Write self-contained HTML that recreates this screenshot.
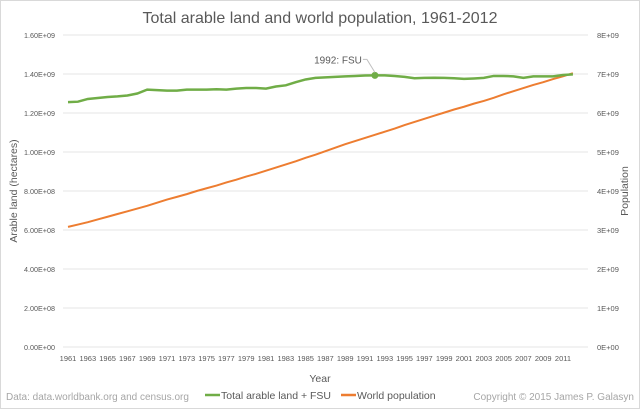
<!DOCTYPE html>
<html><head><meta charset="utf-8"><style>
body{margin:0;background:#fff;}
svg{display:block;font-family:"Liberation Sans",sans-serif;}
</style></head><body>
<svg id="c" width="640" height="409">
<rect x="0.5" y="0.5" width="639" height="408" fill="#fff" stroke="#d9d9d9"/>
<text x="320" y="23" text-anchor="middle" font-size="16" fill="#595959">Total arable land and world population, 1961-2012</text>
<g id="grid"></g><g id="ticks"></g><g id="series"></g>
<text transform="translate(17,191) rotate(-90)" text-anchor="middle" font-size="10.5" fill="#595959">Arable land (hectares)</text>
<text transform="translate(628,191) rotate(-90)" text-anchor="middle" font-size="10.5" fill="#595959">Population</text>
<text x="320" y="382" text-anchor="middle" font-size="10.5" fill="#595959">Year</text>
<text x="6" y="400" font-size="10" fill="#a6a6a6">Data: data.worldbank.org  and census.org</text>
<g>
<line x1="205" y1="395" x2="220" y2="395" stroke="#70ad47" stroke-width="2.5"/>
<text x="221" y="399" font-size="10.5" fill="#595959">Total arable land + FSU</text>
<line x1="341" y1="395" x2="356" y2="395" stroke="#ed7d31" stroke-width="2.5"/>
<text x="357" y="399" font-size="10.5" fill="#595959">World population</text>
</g>
<text x="634" y="400" text-anchor="end" font-size="10" fill="#a6a6a6">Copyright © 2015 James P. Galasyn</text>
</svg>
<script>
const years=[];for(let y=1961;y<=2012;y++)years.push(y);
const arable=[1.256,1.258,1.272,1.277,1.282,1.285,1.29,1.30,1.32,1.317,1.315,1.315,1.32,1.32,1.32,1.322,1.32,1.325,1.328,1.328,1.325,1.336,1.342,1.358,1.372,1.38,1.383,1.385,1.388,1.39,1.392,1.393,1.393,1.39,1.385,1.378,1.380,1.381,1.38,1.378,1.375,1.377,1.38,1.39,1.39,1.388,1.38,1.388,1.388,1.388,1.395,1.398];
const population=[3.08,3.14,3.20,3.27,3.34,3.41,3.48,3.55,3.62,3.70,3.78,3.85,3.92,4.00,4.07,4.14,4.22,4.29,4.37,4.44,4.52,4.60,4.68,4.76,4.85,4.93,5.02,5.11,5.20,5.28,5.36,5.44,5.52,5.60,5.69,5.77,5.85,5.93,6.01,6.09,6.16,6.24,6.31,6.39,6.48,6.56,6.64,6.72,6.79,6.87,6.94,7.02];
const leftTicks=["0.00E+00","2.00E+08","4.00E+08","6.00E+08","8.00E+08","1.00E+09","1.20E+09","1.40E+09","1.60E+09"];
const rightTicks=["0E+00","1E+09","2E+09","3E+09","4E+09","5E+09","6E+09","7E+09","8E+09"];
const annotation={year:1992,label:"1992: FSU"};
const NS="http://www.w3.org/2000/svg";
const X=y=>68+(y-1961)*9.9;
const YL=v=>347-v/1.6*312;
const YR=v=>347-v/8*312;
function mk(t,a,p){const e=document.createElementNS(NS,t);for(const k in a)e.setAttribute(k,a[k]);document.getElementById(p).appendChild(e);return e;}
leftTicks.forEach((t,i)=>{const y=347-i*39;
const g=mk('line',{x1:63,x2:588,y1:y,y2:y,stroke:'#e6e6e6'},'grid');


const l=mk('text',{x:55,y:y+3,'text-anchor':'end','font-size':7.5,fill:'#595959',textLength:31,lengthAdjust:'spacingAndGlyphs'},'ticks');l.textContent=t;


const r=mk('text',{x:597,y:y+3,'font-size':7.5,fill:'#595959'},'ticks');r.textContent=rightTicks[i];

});
years.forEach(y=>{if((y-1961)%2)return;const t=mk('text',{x:X(y),y:361,'text-anchor':'middle','font-size':7.5,fill:'#595959'},'ticks');t.textContent=y;

});
const pp=mk('polyline',{points:years.map((y,i)=>X(y)+','+YR(population[i])).join(' '),fill:'none',stroke:'#ed7d31','stroke-width':2},'series');


const ap=mk('polyline',{points:years.map((y,i)=>X(y)+','+YL(arable[i])).join(' '),fill:'none',stroke:'#70ad47','stroke-width':2.5},'series');


const ai=years.indexOf(annotation.year),ax=X(annotation.year),ay=YL(arable[ai]);
const dot=mk('circle',{cx:ax,cy:ay,r:3.5,fill:'#70ad47'},'series');


const ld=mk('polyline',{points:`${ax},${ay-3} ${ax-8},${ay-16} ${ax-12},${ay-16}`,fill:'none',stroke:'#bfbfbf'},'series');


const at=mk('text',{x:ax-13,y:ay-12,'text-anchor':'end','font-size':10,fill:'#595959'},'series');at.textContent=annotation.label;


</script>
</body></html>
